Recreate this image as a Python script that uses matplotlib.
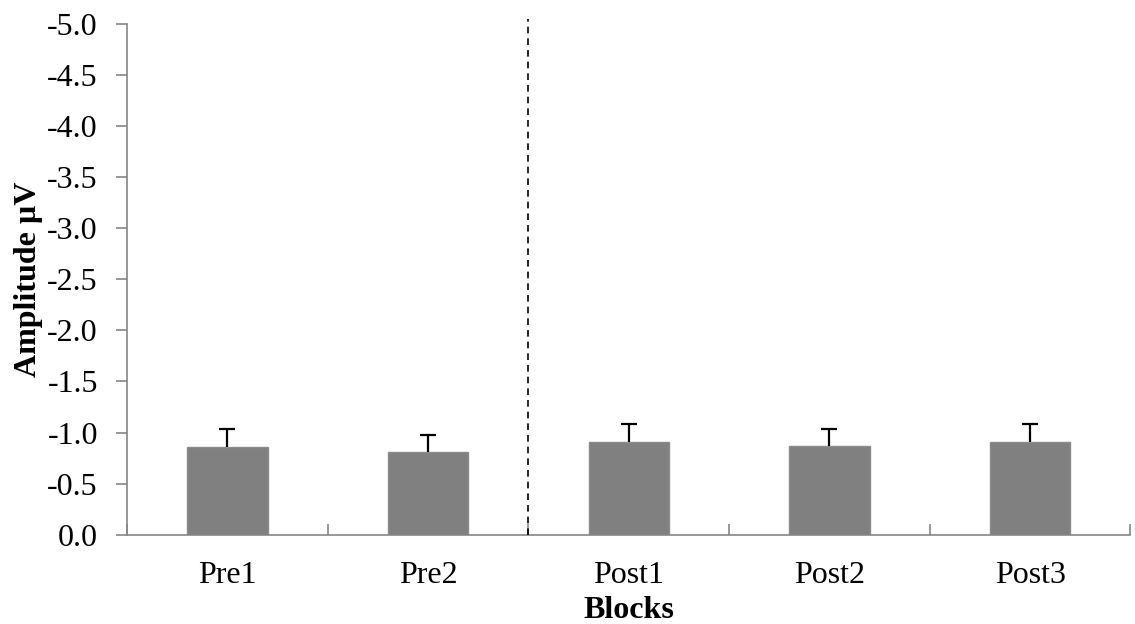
import numpy as np
import matplotlib
matplotlib.use("Agg")
import matplotlib.pyplot as plt
from matplotlib.ticker import FormatStrFormatter

blocks = ["Pre1", "Pre2", "Post1", "Post2", "Post3"]
amplitude = [-0.86, -0.81, -0.91, -0.87, -0.91]
sem = [0.17, 0.17, 0.17, 0.165, 0.17]

plt.rcParams["font.family"] = ["Liberation Serif", "DejaVu Serif"]
axis_grey = "#868686"
fs = 23

fig = plt.figure(figsize=(11.35, 6.24), dpi=100)
ax = fig.add_axes([0.112, 0.143, 0.884, 0.819])

x = np.arange(len(blocks))
ax.bar(x, amplitude, width=0.4, color="#808080", edgecolor="#8c8c8c", linewidth=1, zorder=2)

# only the upper (more negative) half of the error bar, with a cap at the tip
tips = np.array(amplitude) - np.array(sem)
ax.vlines(x, amplitude, tips, color="black", linewidth=1.6, zorder=3)
ax.plot(x, tips, linestyle="none", marker="_", markersize=12, markeredgewidth=1.6,
        color="black", zorder=3)

# dashed separator between pre and post blocks
ax.axvline(1.5, ymin=0, ymax=1.01, color="black", linestyle=(0, (4, 3)), linewidth=1.2,
           clip_on=False, zorder=4)

ax.set_xlim(-0.5, len(blocks) - 0.5)
ax.set_ylim(0, -5)
ax.set_yticks(np.arange(0, -5.01, -0.5))
ax.yaxis.set_major_formatter(FormatStrFormatter("%.1f"))

ax.set_xticks(x)
ax.set_xticklabels(blocks)
ax.set_xticks(np.arange(-0.5, len(blocks)), minor=True)
ax.tick_params(axis="x", which="major", length=0, pad=19, labelsize=fs)
ax.tick_params(axis="x", which="minor", direction="in", length=8, color=axis_grey, width=1.2)
ax.tick_params(axis="y", direction="out", length=8, color=axis_grey, width=1.2, labelsize=fs, pad=13)

for side in ["top", "right"]:
    ax.spines[side].set_visible(False)
for side in ["left", "bottom"]:
    ax.spines[side].set_color(axis_grey)
    ax.spines[side].set_linewidth(1.2)

ax.set_xlabel("Blocks", fontsize=fs, fontweight="bold", labelpad=4)
ax.set_ylabel("Amplitude µV", fontsize=fs, fontweight="bold", labelpad=3)

fig.savefig("out.png", dpi=100)
